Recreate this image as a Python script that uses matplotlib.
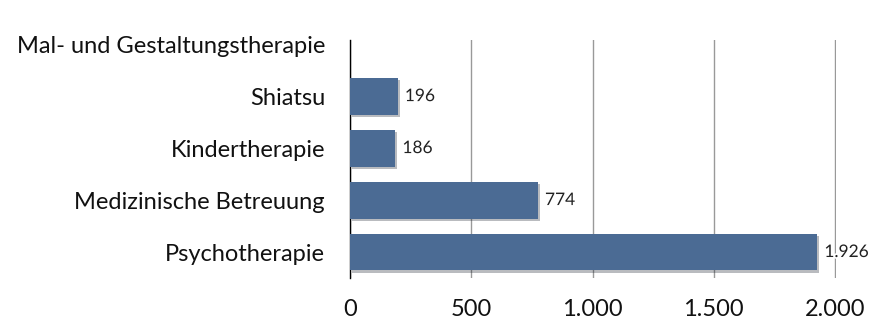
import matplotlib.pyplot as plt
import matplotlib.patheffects as pe
from matplotlib.ticker import FuncFormatter

categories = ['Psychotherapie', 'Medizinische Betreuung', 'Kindertherapie',
              'Shiatsu', 'Mal- und Gestaltungstherapie']
values = [1926, 774, 186, 196, 0]


def de_fmt(v, pos=None):
    return f"{int(round(v)):,}".replace(',', '.')


plt.rcParams['font.family'] = ['Lato', 'DejaVu Sans']

fig = plt.figure(figsize=(8.72, 3.2), dpi=100)
ax = fig.add_axes([350 / 872, 42 / 320, 486 / 872, 238 / 320])

bars = ax.barh(range(len(categories)), values, height=0.71, color='#4b6b94',
               zorder=3)
for b in bars:
    b.set_path_effects([pe.SimplePatchShadow(offset=(1.5, -1.5), alpha=0.3),
                        pe.Normal()])

for i, v in enumerate(values):
    if v > 0:
        ax.text(v + 30, i, de_fmt(v), va='center', ha='left', fontsize=12.5,
                color='#222222', zorder=4,
                path_effects=[pe.withStroke(linewidth=2.5, foreground='white')])

ax.set_xlim(0, 2004)
ax.set_ylim(-0.5, 4.08)
ax.set_xticks([0, 500, 1000, 1500, 2000])
ax.xaxis.set_major_formatter(FuncFormatter(de_fmt))
ax.set_yticks(range(len(categories)))
ax.set_yticklabels(categories)

ax.grid(axis='x', color='#999999', linewidth=1, zorder=0)
for s in ['top', 'right', 'bottom']:
    ax.spines[s].set_visible(False)
ax.spines['left'].set_color('black')
ax.spines['left'].set_linewidth(1)
ax.tick_params(axis='both', length=0, labelsize=17, colors='#111111')
ax.tick_params(axis='y', pad=18)
ax.tick_params(axis='x', pad=15)

plt.savefig('out.png', dpi=100)
